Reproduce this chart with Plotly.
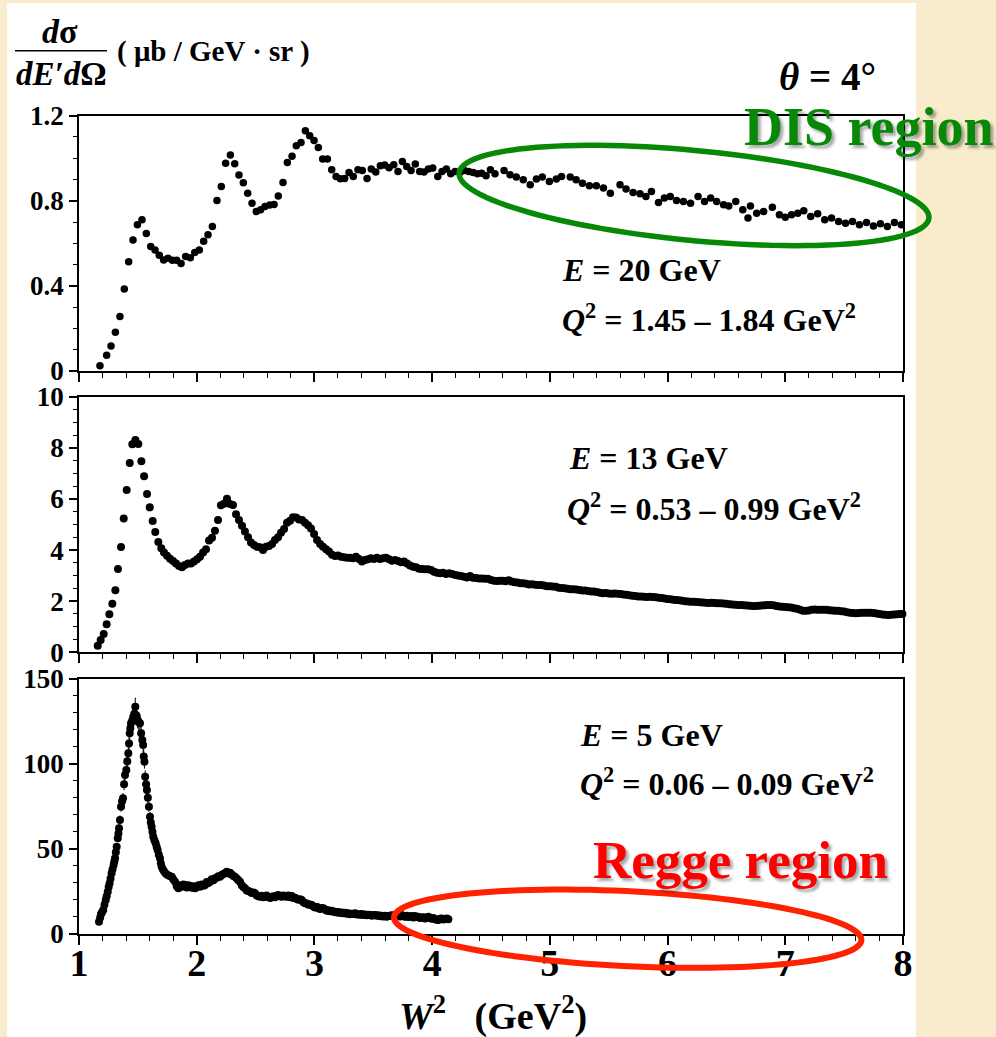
import numpy as np
import plotly.graph_objects as go

# ---------------- data ----------------
# E = 20 GeV, Q^2 = 1.45-1.84 GeV^2
w2_e20 = [1.178, 1.235, 1.272, 1.309, 1.348, 1.385, 1.422, 1.459, 1.496, 1.535,
          1.572, 1.609, 1.646, 1.682, 1.719, 1.756, 1.793, 1.830, 1.867, 1.906,
          1.946, 1.983, 2.022, 2.059, 2.096, 2.133, 2.172, 2.209, 2.246, 2.286,
          2.323, 2.359, 2.396, 2.433, 2.470, 2.506, 2.543, 2.580, 2.620, 2.657,
          2.693, 2.733, 2.770, 2.810, 2.846, 2.886, 2.923, 2.960, 2.997, 3.033,
          3.070, 3.110, 3.147, 3.184, 3.220, 3.257, 3.294, 3.330, 3.370, 3.407,
          3.447, 3.483, 3.521, 3.560, 3.597, 3.634, 3.674, 3.710, 3.747, 3.784,
          3.821, 3.857, 3.894, 3.931, 3.968, 4.005, 4.048, 4.084, 4.121, 4.158,
          4.195, 4.237, 4.274, 4.311, 4.348, 4.384, 4.421, 4.458, 4.495, 4.534,
          4.611, 4.662, 4.715, 4.774, 4.833, 4.886, 4.936, 4.996, 5.055, 5.099,
          5.173, 5.223, 5.277, 5.336, 5.395, 5.455, 5.514, 5.596, 5.647, 5.707,
          5.766, 5.816, 5.863, 5.923, 5.973, 6.023, 6.076, 6.135, 6.195, 6.259,
          6.314, 6.366, 6.417, 6.476, 6.520, 6.579, 6.639, 6.683, 6.704, 6.757,
          6.816, 6.890, 6.950, 7.000, 7.053, 7.106, 7.157, 7.216, 7.275, 7.335,
          7.393, 7.453, 7.512, 7.571, 7.630, 7.690, 7.749, 7.808, 7.867, 7.927,
          7.986]
xs_e20 = [0.025, 0.074, 0.118, 0.182, 0.256, 0.386, 0.513, 0.616, 0.687, 0.711,
          0.646, 0.585, 0.569, 0.544, 0.522, 0.530, 0.521, 0.521, 0.505, 0.538,
          0.532, 0.557, 0.569, 0.610, 0.641, 0.679, 0.801, 0.867, 0.977, 1.015,
          0.974, 0.921, 0.885, 0.836, 0.789, 0.750, 0.758, 0.773, 0.780, 0.783,
          0.822, 0.886, 0.980, 1.009, 1.059, 1.074, 1.129, 1.106, 1.084, 1.051,
          0.996, 0.996, 0.946, 0.914, 0.904, 0.905, 0.933, 0.914, 0.946, 0.943,
          0.905, 0.949, 0.935, 0.965, 0.968, 0.955, 0.969, 0.938, 0.985, 0.961,
          0.943, 0.973, 0.938, 0.935, 0.949, 0.954, 0.914, 0.938, 0.949, 0.927,
          0.938, 0.933, 0.943, 0.938, 0.933, 0.927, 0.930, 0.918, 0.946, 0.927,
          0.943, 0.922, 0.912, 0.899, 0.875, 0.902, 0.912, 0.891, 0.902, 0.914,
          0.912, 0.899, 0.883, 0.871, 0.871, 0.860, 0.836, 0.875, 0.855, 0.839,
          0.833, 0.820, 0.844, 0.792, 0.813, 0.820, 0.801, 0.797, 0.789, 0.820,
          0.797, 0.813, 0.797, 0.781, 0.776, 0.797, 0.758, 0.719, 0.776, 0.742,
          0.750, 0.770, 0.734, 0.723, 0.734, 0.742, 0.753, 0.726, 0.739, 0.711,
          0.719, 0.703, 0.695, 0.703, 0.687, 0.698, 0.682, 0.692, 0.679, 0.698,
          0.687]

# E = 13 GeV, Q^2 = 0.53-0.99 GeV^2
w2_e13 = [1.159, 1.184, 1.210, 1.235, 1.258, 1.283, 1.309, 1.331, 1.357, 1.380,
          1.405, 1.431, 1.453, 1.479, 1.504, 1.530, 1.553, 1.578, 1.601, 1.626,
          1.648, 1.674, 1.699, 1.722, 1.748, 1.773, 1.799, 1.824, 1.850, 1.875,
          1.900, 1.926, 1.952, 1.977, 2.003, 2.028, 2.054, 2.079, 2.105, 2.130,
          2.155, 2.181, 2.206, 2.232, 2.257, 2.283, 2.308, 2.334, 2.359, 2.385,
          2.410, 2.436, 2.461, 2.487, 2.512, 2.538, 2.563, 2.589, 2.614, 2.640,
          2.665, 2.691, 2.716, 2.742, 2.767, 2.793, 2.818, 2.844, 2.869, 2.895,
          2.920, 2.946, 2.971, 2.997, 3.022, 3.048, 3.073, 3.099, 3.124, 3.150,
          3.175, 3.200, 3.226, 3.251, 3.277, 3.302, 3.328, 3.353, 3.379, 3.404,
          3.430, 3.455, 3.481, 3.506, 3.532, 3.557, 3.583, 3.608, 3.634, 3.659,
          3.685, 3.710, 3.736, 3.761, 3.787, 3.812, 3.838, 3.863, 3.889, 3.914,
          3.940, 3.965, 3.991, 4.016, 4.042, 4.067, 4.093, 4.118, 4.144, 4.169,
          4.195, 4.220, 4.245, 4.271, 4.296, 4.322, 4.347, 4.373, 4.398, 4.424,
          4.449, 4.475, 4.500, 4.526, 4.551,
          4.575, 4.600, 4.625, 4.650, 4.675, 4.700, 4.725, 4.750, 4.775, 4.800,
          4.825, 4.850, 4.875, 4.900, 4.925, 4.950, 4.975, 5.000, 5.025, 5.050,
          5.075, 5.100, 5.125, 5.150, 5.175, 5.200, 5.225, 5.250, 5.275, 5.300,
          5.325, 5.350, 5.375, 5.400, 5.425, 5.450, 5.475, 5.500, 5.525, 5.550,
          5.575, 5.600, 5.625, 5.650, 5.675, 5.700, 5.725, 5.750, 5.775, 5.800,
          5.825, 5.850, 5.875, 5.900, 5.925, 5.950, 5.975, 6.000, 6.025, 6.050,
          6.075, 6.100, 6.125, 6.150, 6.175, 6.200, 6.225, 6.250, 6.275, 6.300,
          6.325, 6.350, 6.375, 6.400, 6.425, 6.450, 6.475, 6.500, 6.525, 6.550,
          6.575, 6.600, 6.625, 6.650, 6.675, 6.700, 6.725, 6.750, 6.775, 6.800,
          6.825, 6.850, 6.875, 6.900, 6.925, 6.950, 6.975, 7.000, 7.025, 7.050,
          7.075, 7.100, 7.125, 7.150, 7.175, 7.200, 7.225, 7.250, 7.275, 7.300,
          7.325, 7.350, 7.375, 7.400, 7.425, 7.450, 7.475, 7.500, 7.525, 7.550,
          7.575, 7.600, 7.625, 7.650, 7.675, 7.700, 7.725, 7.750, 7.775, 7.800,
          7.825, 7.850, 7.875, 7.900, 7.925, 7.950, 7.975, 7.995]
xs_e13 = [0.26, 0.48, 0.72, 1.10, 1.49, 1.90, 2.43, 3.26, 4.12, 5.23,
          6.35, 7.41, 8.14, 8.31, 8.15, 7.47, 6.89, 6.19, 5.67, 5.14,
          4.71, 4.32, 4.07, 3.90, 3.78, 3.66, 3.57, 3.47, 3.38, 3.33,
          3.42, 3.47, 3.47, 3.55, 3.64, 3.74, 3.90, 4.03, 4.37, 4.48,
          4.76, 5.18, 5.75, 5.81, 6.01, 5.80, 5.76, 5.40, 5.18, 4.95,
          4.73, 4.50, 4.30, 4.20, 4.13, 4.11, 4.00, 4.13, 4.16, 4.24,
          4.39, 4.50, 4.68, 4.82, 5.07, 5.15, 5.28, 5.27, 5.20, 5.18,
          5.07, 4.97, 4.84, 4.63, 4.39, 4.24, 4.13, 4.03, 3.94, 3.82,
          3.77, 3.79, 3.74, 3.72, 3.70, 3.70, 3.68, 3.74, 3.65, 3.55,
          3.61, 3.64, 3.68, 3.65, 3.70, 3.65, 3.68, 3.70, 3.64, 3.58,
          3.61, 3.57, 3.52, 3.55, 3.47, 3.40, 3.35, 3.33, 3.27, 3.26,
          3.25, 3.25, 3.22, 3.15, 3.11, 3.09, 3.11, 3.06, 3.09, 3.06,
          3.02, 3.00, 2.99, 2.96, 2.93, 2.99, 2.92, 2.91, 2.89, 2.89,
          2.88, 2.88, 2.83, 2.80, 2.79,
          2.80, 2.80, 2.78, 2.82, 2.77, 2.74, 2.73, 2.70, 2.70, 2.68,
          2.65, 2.66, 2.64, 2.63, 2.63, 2.61, 2.58, 2.58, 2.57, 2.56,
          2.53, 2.52, 2.51, 2.49, 2.47, 2.47, 2.46, 2.44, 2.42, 2.42,
          2.40, 2.38, 2.38, 2.36, 2.33, 2.31, 2.32, 2.30, 2.29, 2.30,
          2.29, 2.28, 2.26, 2.25, 2.23, 2.21, 2.20, 2.18, 2.18, 2.17,
          2.16, 2.17, 2.16, 2.15, 2.13, 2.12, 2.10, 2.09, 2.08, 2.06,
          2.05, 2.04, 2.02, 2.00, 1.99, 1.98, 1.98, 1.97, 1.96, 1.95,
          1.94, 1.93, 1.94, 1.93, 1.92, 1.92, 1.91, 1.90, 1.88, 1.87,
          1.86, 1.85, 1.85, 1.84, 1.83, 1.82, 1.81, 1.81, 1.82, 1.83,
          1.84, 1.85, 1.85, 1.84, 1.81, 1.79, 1.78, 1.77, 1.76, 1.75,
          1.72, 1.70, 1.66, 1.63, 1.63, 1.64, 1.66, 1.67, 1.66, 1.66,
          1.66, 1.66, 1.65, 1.64, 1.63, 1.63, 1.61, 1.60, 1.57, 1.55,
          1.54, 1.53, 1.54, 1.55, 1.55, 1.55, 1.55, 1.54, 1.52, 1.50,
          1.48, 1.47, 1.46, 1.47, 1.48, 1.49, 1.50, 1.50]

# E = 5 GeV, Q^2 = 0.06-0.09 GeV^2
w2_e5 = [1.170, 1.180, 1.187, 1.195, 1.206, 1.216, 1.227, 1.235, 1.244, 1.252,
         1.260, 1.268, 1.277, 1.285, 1.294, 1.300, 1.306, 1.313, 1.320, 1.329,
         1.335, 1.340, 1.348, 1.357, 1.366, 1.374, 1.383, 1.391, 1.402, 1.410,
         1.419, 1.425, 1.431, 1.436, 1.442, 1.452, 1.461, 1.470, 1.478, 1.488,
         1.499, 1.508, 1.518, 1.528, 1.538, 1.545, 1.550, 1.556, 1.562, 1.570,
         1.577, 1.585, 1.594, 1.603, 1.610, 1.617, 1.624, 1.631, 1.641, 1.651,
         1.660, 1.668, 1.678, 1.688, 1.695, 1.702, 1.713, 1.725, 1.738, 1.753,
         1.770, 1.788, 1.800, 1.816, 1.830, 1.844,
         1.858, 1.873, 1.887, 1.901, 1.915, 1.929, 1.943, 1.958, 1.972, 1.986,
         2.000, 2.014, 2.028, 2.042, 2.057, 2.071, 2.085, 2.099, 2.113, 2.127,
         2.142, 2.156, 2.170, 2.184, 2.198, 2.212, 2.226, 2.240, 2.255, 2.269,
         2.283, 2.297, 2.311, 2.325, 2.340, 2.354, 2.368, 2.382, 2.396, 2.410,
         2.425, 2.439, 2.453, 2.467, 2.481, 2.495, 2.510, 2.524, 2.538, 2.552,
         2.566, 2.580, 2.594, 2.609, 2.623, 2.637, 2.651, 2.665, 2.679, 2.693,
         2.708, 2.722, 2.736, 2.750, 2.764, 2.778, 2.793, 2.807, 2.821, 2.835,
         2.850, 2.864, 2.878, 2.892, 2.906, 2.920, 2.935, 2.949, 2.963, 2.977,
         2.991, 3.005, 3.020, 3.034, 3.048, 3.062, 3.076, 3.090, 3.105, 3.119,
         3.133, 3.147, 3.161, 3.175, 3.190, 3.204, 3.218, 3.232, 3.246, 3.260,
         3.275, 3.289, 3.303, 3.317, 3.331, 3.345, 3.360, 3.374, 3.388, 3.402,
         3.416, 3.430, 3.444, 3.459, 3.473, 3.487, 3.501, 3.515, 3.529, 3.544,
         3.558, 3.572, 3.586, 3.600, 3.614, 3.628, 3.642, 3.657, 3.671, 3.685,
         3.699, 3.713, 3.728, 3.742, 3.756, 3.770, 3.784, 3.798, 3.812, 3.827,
         3.841, 3.855, 3.869, 3.883, 3.897, 3.912, 3.926, 3.940, 3.954, 3.968,
         3.982, 3.996, 4.011, 4.025, 4.039, 4.053, 4.067, 4.081, 4.095, 4.110,
         4.124, 4.138]
xs_e5 = [7.1, 9.5, 11.6, 12.5, 14.0, 17.0, 19.8, 22.0, 24.7, 27.5,
         29.7, 32.5, 35.6, 38.0, 40.5, 42.5, 44.4, 48.0, 51.2, 56.2,
         59.0, 62.1, 67.0, 74.8, 78.0, 79.7, 88.0, 93.5, 96.4, 101.5,
         106.3, 112.0, 118.0, 121.0, 123.9, 125.5, 127.8, 129.5, 133.7, 128.5,
         125.9, 124.5, 123.9, 118.0, 114.1, 111.1, 104.3, 101.3, 92.5, 88.0,
         84.6, 80.0, 74.8, 68.9, 65.5, 63.0, 60.0, 57.1, 55.0, 53.2,
         51.0, 49.3, 46.5, 44.4, 41.5, 39.5, 37.8, 36.5, 35.3, 34.6,
         34.0, 33.6, 32.0, 30.6, 28.0, 26.7,
         28.5, 27.7, 29.0, 28.7, 27.2, 28.5, 28.1, 27.0, 28.0, 26.7,
         27.5, 28.5, 27.7, 29.0, 28.2, 28.7, 30.5, 29.8, 30.6, 32.0,
         31.5, 32.6, 33.0, 33.8, 33.6, 34.5, 35.2, 35.6, 36.5, 35.5,
         35.9, 34.8, 34.0, 33.6, 32.5, 31.5, 30.6, 28.5, 27.5, 26.7,
         25.5, 25.2, 24.7, 24.0, 24.3, 23.8, 22.5, 22.0, 21.8, 22.3,
         21.5, 21.8, 22.5, 21.6, 21.0, 21.4, 22.0, 21.5, 22.3, 22.8,
         22.0, 21.7, 22.5, 22.0, 21.8, 22.5, 21.5, 22.2, 21.0, 21.2,
         20.5, 20.0, 20.3, 19.8, 18.5, 18.0, 17.8, 17.0, 17.2, 16.9,
         16.0, 15.5, 15.8, 15.0, 14.5, 15.2, 15.0, 14.2, 13.5, 13.8,
         13.2, 13.5, 13.0, 13.0, 12.5, 12.8, 12.2, 12.5, 12.0, 12.3,
         11.8, 12.0, 11.5, 11.8, 11.6, 12.0, 11.3, 11.5, 11.2, 11.6,
         11.0, 11.3, 10.8, 11.2, 11.0, 10.6, 11.0, 11.0, 10.5, 10.8,
         10.3, 10.6, 10.2, 10.5, 10.0, 10.4, 10.6, 10.8, 10.4, 11.0,
         10.5, 10.7, 10.2, 11.0, 10.3, 10.0, 10.5, 9.8, 10.2, 10.4,
         9.6, 10.4, 9.8, 10.0, 9.2, 9.5, 9.7, 9.0, 9.6, 10.0,
         9.2, 8.8, 9.3, 8.5, 8.2, 8.1, 8.8, 9.0, 8.3, 8.6,
         8.9, 8.5]

x_ticks = [1, 2, 3, 4, 5, 6, 7, 8]
y_ticks_e20 = [0, 0.4, 0.8, 1.2]
y_ticks_e13 = [0, 2, 4, 6, 8, 10]
y_ticks_e5 = [0, 50, 100, 150]

# ---------------- helpers ----------------
W, H = 996, 1037
SERIF = "Liberation Serif"


def px(x):
    return x / W


def py(y):
    return 1 - y / H


def ellipse_path(cx, cy, a, b, ang_deg, n=120):
    t = np.linspace(0, 2 * np.pi, n)
    ang = np.radians(ang_deg)
    ex = cx + a * np.cos(t) * np.cos(ang) - b * np.sin(t) * np.sin(ang)
    ey = cy + a * np.cos(t) * np.sin(ang) + b * np.sin(t) * np.cos(ang)
    pts = [f"{px(x):.5f},{py(y):.5f}" for x, y in zip(ex, ey)]
    return "M " + " L ".join(pts) + " Z"


fig = go.Figure()
fig.add_trace(go.Scatter(x=w2_e20, y=xs_e20, mode="markers",
                         marker=dict(color="black", size=7.5),
                         xaxis="x", yaxis="y", cliponaxis=False, showlegend=False))
fig.add_trace(go.Scatter(x=w2_e13, y=xs_e13, mode="markers",
                         marker=dict(color="black", size=8),
                         xaxis="x2", yaxis="y2", cliponaxis=False, showlegend=False))
fig.add_trace(go.Scatter(x=w2_e5, y=xs_e5, mode="markers",
                         marker=dict(color="black", size=8),
                         error_y=dict(type="percent", value=4, thickness=1, width=0, color="black"),
                         xaxis="x3", yaxis="y3", cliponaxis=False, showlegend=False))

xdom = [79 / W, 903 / W]
ydoms = [[py(371), py(115.7)], [py(652.3), py(396.7)], [py(933.7), py(679)]]

common = dict(showline=True, linecolor="black", linewidth=1.6, mirror=True,
              ticks="outside", tickcolor="black", tickwidth=1.5,
              showgrid=False, zeroline=False, automargin=False)


def xaxis(anchor, labels):
    return dict(common, domain=xdom, anchor=anchor, range=[1, 8], tickvals=x_ticks,
                ticklen=9, showticklabels=labels, ticklabelstandoff=-14,
                tickfont=dict(family=SERIF, size=38, color="black", weight="bold"),
                minor=dict(tick0=1, dtick=0.2, ticks="outside", ticklen=5,
                           tickcolor="black", tickwidth=1.2))


def yaxis(anchor, dom, rng, tv, mdt):
    return dict(common, domain=dom, anchor=anchor, range=rng, tickvals=tv, ticklen=8,
                tickfont=dict(family=SERIF, size=27, color="black", weight="bold"),
                minor=dict(tick0=0, dtick=mdt, ticks="outside", ticklen=4,
                           tickcolor="black", tickwidth=1.2))


fig.update_layout(
    width=W, height=H, autosize=False,
    margin=dict(l=0, r=0, t=0, b=0, pad=0, autoexpand=False),
    paper_bgcolor="#F8ECCD", plot_bgcolor="white",
    xaxis=xaxis("y", False), xaxis2=xaxis("y2", False), xaxis3=xaxis("y3", True),
    yaxis=yaxis("x", ydoms[0], [0, 1.2], y_ticks_e20, 0.1),
    yaxis2=yaxis("x2", ydoms[1], [0, 10], y_ticks_e13, 0.5),
    yaxis3=yaxis("x3", ydoms[2], [0, 150], y_ticks_e5, 10),
)

shapes = [
    dict(type="rect", xref="paper", yref="paper", x0=px(7), x1=px(916), y0=-0.01, y1=py(3),
         fillcolor="white", line=dict(width=0), layer="below"),
    dict(type="line", xref="paper", yref="paper", x0=px(15), x1=px(107), y0=py(50.7), y1=py(50.7),
         line=dict(color="black", width=1.5)),
    dict(type="path", xref="paper", yref="paper", path=ellipse_path(694, 195.5, 236, 45, 5.5),
         line=dict(color="#078807", width=5.5), layer="above"),
    dict(type="path", xref="paper", yref="paper", path=ellipse_path(627.7, 928.7, 234, 37.5, 2.8),
         line=dict(color="#FF2200", width=6), layer="above"),
]
fig.update_layout(shapes=shapes)


def ann(text, x, y, size, xanchor="left", color="black", shadow=None):
    f = dict(family=SERIF, size=size, color=color)
    if shadow:
        f["shadow"] = shadow
    return dict(text=text, x=px(x), y=py(y), xref="paper", yref="paper",
                xanchor=xanchor, yanchor="middle", showarrow=False, font=f)


annotations = [
    ann("<b><i>d</i>σ</b>", 60, 31, 34, xanchor="center"),
    ann("<b><i>dE′d</i>Ω</b>", 61, 74, 33, xanchor="center"),
    ann("<b>( μb / GeV · sr )</b>", 115, 52, 29),
    ann("<b><i>θ</i> = 4°</b>", 827, 77, 39, xanchor="center"),
    ann("<b>DIS region</b>", 869, 127, 54, xanchor="center", color="#078807",
        shadow="3px 3px 3px rgba(0,0,0,0.35)"),
    ann("<b>Regge region</b>", 740, 860, 53, xanchor="center", color="#FF0000",
        shadow="3px 3px 3px rgba(0,0,0,0.35)"),
    ann("<b><i>E</i> = 20 GeV</b>", 560, 270, 32),
    ann("<b><i>Q</i><sup>2</sup> = 1.45 – 1.84 GeV<sup>2</sup></b>", 560, 318, 32),
    ann("<b><i>E</i> = 13 GeV</b>", 567, 458, 32),
    ann("<b><i>Q</i><sup>2</sup> = 0.53 – 0.99 GeV<sup>2</sup></b>", 565, 507, 32),
    ann("<b><i>E</i> = 5 GeV</b>", 578, 735, 32),
    ann("<b><i>Q</i><sup>2</sup> = 0.06 – 0.09 GeV<sup>2</sup></b>", 578, 782, 32),
    ann("<b><i>W</i><sup>2</sup>   (GeV<sup>2</sup>)</b>", 493, 1013, 38, xanchor="center"),
]
fig.update_layout(annotations=annotations)

fig.write_html("out.html",
               post_script="document.body.style.margin='0';document.body.style.overflow='hidden';")
